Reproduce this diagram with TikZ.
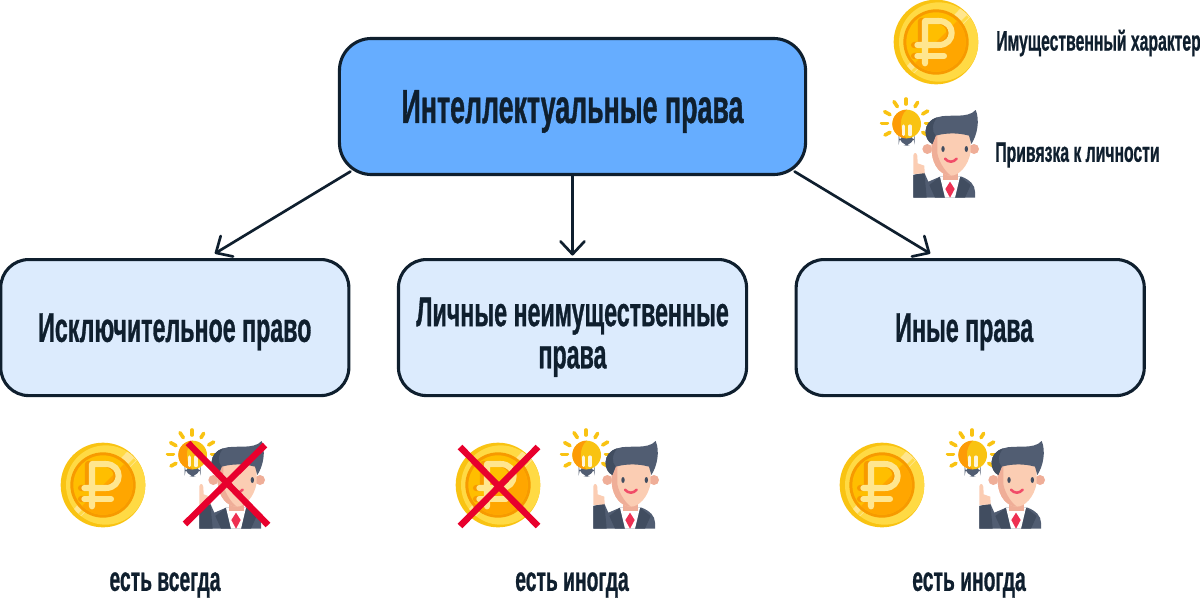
\documentclass[tikz,border=0pt]{standalone}
\usepackage{fontspec}
\setmainfont{Liberation Sans}[FakeStretch=0.56,BoldFeatures={FakeStretch=0.56,FakeBold=0.7}]
\usetikzlibrary{positioning,arrows.meta}
\definecolor{inkdark}{HTML}{0F1F2E}
\definecolor{mainblue}{HTML}{66ADFF}
\definecolor{paleblue}{HTML}{DCEBFD}
\definecolor{crossred}{HTML}{E8002D}
\definecolor{hairgray}{HTML}{515D72}
\definecolor{suitgray}{HTML}{414D60}
\definecolor{skinlight}{HTML}{FBCDB3}
\definecolor{skindark}{HTML}{EFAE98}
\definecolor{coinrim}{HTML}{FFDA44}
\definecolor{coindark}{HTML}{F9C312}
\definecolor{coinorange}{HTML}{FFA600}
\definecolor{coinmid}{HTML}{FFBE00}
\definecolor{coinshade}{HTML}{F79A00}
\definecolor{coinpale}{HTML}{FFE68F}
\tikzset{
  coin/.pic={
    \begin{scope}[scale=1/3]
      \fill[coindark] (0,0) circle (127);
      \begin{scope}
        \clip (8,0) circle (119);
        \fill[coinrim] (-130,-130) rectangle (130,130);
        \fill[coinpale] (-106,92) -- (78,-106) -- (106,-78) -- (-78,106) -- cycle;
        \fill[coinrim] (-92,104) -- (92,-80) -- (98,-74) -- (-86,110) -- cycle;
      \end{scope}
      \fill[coinshade] (0,0) circle (98);
      \fill[coinmid] (0,0) circle (89);
      \begin{scope}
        \clip (0,0) circle (89);
        \fill[coinorange] (-90,90) -- (90,-90) -- (120,120) -- cycle;
      \end{scope}
      \draw[coinshade,line width=4.3pt,line cap=round,line join=round]
        (-45,0) -- (-45,-63) -- (3,-63) .. controls (54,-63) and (54,9) .. (3,9) -- (-66,9)
        (-66,42) -- (-45,42);
      \draw[coinpale,line width=4.3pt,line cap=round,line join=round]
        (-33,64) -- (-33,-63) -- (8,-63) .. controls (60,-63) and (60,9) .. (8,9) -- (-56,9);
      \draw[coinpale,line width=4.3pt,line cap=round] (-56,42) -- (24,42);
    \end{scope}
  },
  person/.pic={
    \begin{scope}[scale=1/3]
      % lamp
      \foreach \a/\b/\c/\d in {78/297/78/312,42/305/52/320,113/307/105/320,14/335/30/344,
        143/333/128/342,5/370/22/370,153/370/137/370,15/405/30/397,142/405/128/397}
        \draw[coindark,line width=2.6pt,line cap=round] (\a,\b) -- (\c,\d);
      \fill[hairgray,rounded corners=8] (56,400) rectangle (104,437);
      \fill[coindark] (80,372) circle (43);
      \fill[orange!60!coindark] (80,329) arc (-90:-270:43) .. controls (58,400) and (55,350) .. (80,329);
      \draw[white!85!coindark,line width=2.2pt,line cap=round] (70,378) -- (70,404) (90,378) -- (90,404);
      % suit and arm
      \fill[hairgray] (100,593) -- (100,525) -- (133,518) -- (145,545) -- (180,530) -- (245,530)
        .. controls (270,540) and (285,555) .. (285,575) -- (285,593) -- cycle;
      \fill[suitgray] (100,593) -- (100,525) -- (133,518) -- (140,593) -- cycle;
      \fill[suitgray] (180,530) -- (148,555) -- (165,593) -- (195,593) -- cycle;
      \fill[suitgray] (240,530) -- (272,555) -- (255,593) -- (225,593) -- cycle;
      \fill[skinlight] (100,522) -- (100,465) .. controls (104,455) and (110,458) .. (112,468)
        -- (113,490) -- (133,497) -- (134,520) -- cycle;
      \fill[white] (180,530) -- (240,530) -- (225,593) -- (195,593) -- cycle;
      \fill[crossred!75!pink] (210,545) -- (224,567) -- (210,593) -- (196,567) -- cycle;
      % head
      \fill[skindark] (142,447) circle (15) (282,447) circle (15);
      \fill[skindark] (190,500) rectangle (235,540);
      \fill[skinlight] (155,395) -- (272,395) -- (272,455) .. controls (265,500) and (235,527) .. (213,527)
        .. controls (185,527) and (158,500) .. (155,455) -- cycle;
      \fill[skindark] (155,395) -- (172,395) -- (172,460) .. controls (178,490) and (198,517) .. (213,527)
        .. controls (185,527) and (158,500) .. (155,455) -- cycle;
      \fill[suitgray] (189,447) ellipse (5 and 9) (259,447) ellipse (5 and 9);
      \draw[crossred!60!pink,line width=1.8pt,line cap=round] (195,476) .. controls (205,488) and (220,488) .. (230,476);
      % hair
      \fill[hairgray] (157,432) .. controls (130,420) and (125,365) .. (172,352)
        .. controls (205,340) and (262,358) .. (287,330)
        .. controls (300,360) and (292,405) .. (274,432) -- (267,407)
        .. controls (235,398) and (200,398) .. (167,407) -- cycle;
      \fill[suitgray] (157,432) .. controls (130,420) and (125,365) .. (172,352)
        .. controls (155,370) and (155,395) .. (167,407) -- cycle;
    \end{scope}
  }
}
\begin{document}
\begin{tikzpicture}[x=0.025cm,y=-0.025cm,
  mainbox/.style={rectangle, rounded corners=0.8cm, draw=inkdark, line width=2.2pt, fill=mainblue,
    minimum width=11.65cm, minimum height=3.4cm, outer sep=0pt, align=center, text depth=0pt, font=\fontsize{34}{36}\selectfont\bfseries, text=inkdark},
  subbox/.style={rectangle, rounded corners=0.7cm, draw=inkdark, line width=2.2pt, fill=paleblue,
    minimum width=8.7cm, minimum height=3.4cm, outer sep=0pt, align=center, text depth=0pt, font=\fontsize{29.5}{30}\selectfont\bfseries, text=inkdark},
  note/.style={font=\fontsize{24.5}{28}\selectfont\bfseries, text=inkdark, inner sep=0pt},
  legend/.style={font=\fontsize{20}{24}\selectfont\bfseries, text=inkdark, inner sep=0pt, anchor=west},
  conn/.style={-{Straight Barb[round,length=3.2mm,width=6mm]}, draw=inkdark, line width=1.9pt, line cap=round},
  cross/.style={draw=crossred, line width=4.6pt}]

\useasboundingbox (0,0) rectangle (1200,600);

\pic at (936,42) {coin};
\pic at (880,0) {person};
\pic at (103,485) {coin};
\pic at (166,331) {person};
\pic at (498,485) {coin};
\pic at (560,331) {person};
\pic at (882,485) {coin};
\pic at (946,331) {person};

\node[mainbox] (main) at (572.5,106.5) {Интеллектуальные права};
\node[subbox] (personal) [below=2.125cm of main, text height=58pt] {Личные неимущественные\\права};
\node[subbox] (exclusive) [left=1.24cm of personal] {Исключительное право};
\node[subbox] (other) [right=1.24cm of personal] {Иные права\hspace*{8.5pt}};

\node[legend] (coinlabel) at (996,43) {Имущественный характер};
\node[legend] (personlabel) at (995,155) {Привязка к личности};
\node[note] (always) at (165,585) {есть всегда};
\node[note] (sometimes1) at (572,585) {есть иногда};
\node[note] (sometimes2) at (969,585) {есть иногда};

\draw[conn] ([shift={(11,-3)}]main.south west) -- ([shift={(40,-6)}]exclusive.north);
\draw[conn] (main.south) -- ([yshift=0.1cm]personal.north);
\draw[conn] ([shift={(-11,-3)}]main.south east) -- ([shift={(-40,-6)}]other.north);

\draw[cross] (188,443) -- (268,525);
\draw[cross] (265,445) -- (185,524);
\draw[cross] (460,447) -- (538,526);
\draw[cross] (538,447) -- (460,526);

\end{tikzpicture}
\end{document}
